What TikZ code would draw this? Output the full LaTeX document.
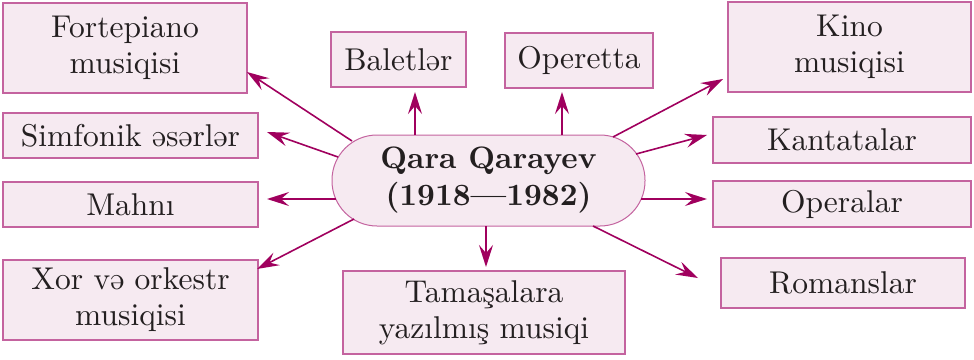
\documentclass[tikz,border=0pt]{standalone}
\usepackage{fontspec}
\setmainfont{lmroman10-regular.otf}[BoldFont=lmroman10-bold.otf]
\usetikzlibrary{arrows.meta}
\definecolor{boxline}{HTML}{C4639F}
\definecolor{boxfill}{HTML}{F6EAF1}
\definecolor{arrcol}{HTML}{A0005E}
\definecolor{txt}{HTML}{231F20}
\begin{document}
\begin{tikzpicture}[x=1pt,y=-1pt,
  box/.style={draw=boxline,fill=boxfill,line width=1.3pt,inner sep=0pt,align=center,
    text=txt,font=\fontsize{31.5}{36}\selectfont},
  hub/.style={draw=boxline,fill=boxfill,line width=1pt,rounded corners=45pt,inner sep=0pt,
    align=center,text=txt,font=\fontsize{31}{37}\selectfont\bfseries,
    minimum width=313pt,minimum height=91pt},
  arr/.style={draw=arrcol,line width=1.6pt,-{Stealth[length=22pt,width=14pt,inset=8pt]}}]
\useasboundingbox (0,0) rectangle (974,359);
% boxes
\node[box,minimum width=244pt,minimum height=90pt] (fp) at (125,48) {Fortepiano\\musiqisi};
\node[box,minimum width=255pt,minimum height=45pt] (sf) at (130.5,135.5) {Simfonik əsərlər};
\node[box,minimum width=255pt,minimum height=45pt] (mh) at (130.5,204.5) {Mahnı};
\node[box,minimum width=255pt,minimum height=80pt] (xo) at (130.5,300) {Xor və orkestr\\musiqisi};
\node[box,minimum width=135pt,minimum height=55pt] (bl) at (398.5,59.5) {Baletlər};
\node[box,minimum width=148pt,minimum height=55pt] (op) at (579,60.5) {Operetta};
\node[box,minimum width=282pt,minimum height=83pt] (tm) at (484,312.5) {Tamaşalara\\yazılmış musiqi};
\node[box,minimum width=243pt,minimum height=90pt] (kn) at (849.5,47) {Kino\\musiqisi};
\node[box,minimum width=258pt,minimum height=46pt] (kt) at (842,140) {Kantatalar};
\node[box,minimum width=258pt,minimum height=46pt] (ol) at (842,204) {Operalar};
\node[box,minimum width=244pt,minimum height=50pt] (rm) at (843,283) {Romanslar};
% hub
\node[hub] (c) at (488.5,180.5) {Qara Qarayev\\(1918—1982)};
% connector end points
\coordinate (s1) at (352,141);  \coordinate (t1) at (247,72);
\coordinate (s2) at (338,157);  \coordinate (t2) at (267,132);
\coordinate (s3) at (336,199);  \coordinate (t3) at (267,199);
\coordinate (s4) at (354,219);  \coordinate (t4) at (257,269);
\coordinate (s5) at (415,135);  \coordinate (t5) at (415,92);
\coordinate (s6) at (562,135);  \coordinate (t6) at (562,92);
\coordinate (s7) at (486,226);  \coordinate (t7) at (486,267);
\coordinate (s8) at (613,137);  \coordinate (t8) at (723,79);
\coordinate (s9) at (636,154);  \coordinate (t9) at (707,135);
\coordinate (s10) at (641,199); \coordinate (t10) at (707,199);
\coordinate (s11) at (593,226); \coordinate (t11) at (698,278);
\foreach \i in {1,...,11} {\draw[arr] (s\i) -- (t\i);}
\end{tikzpicture}
\end{document}
